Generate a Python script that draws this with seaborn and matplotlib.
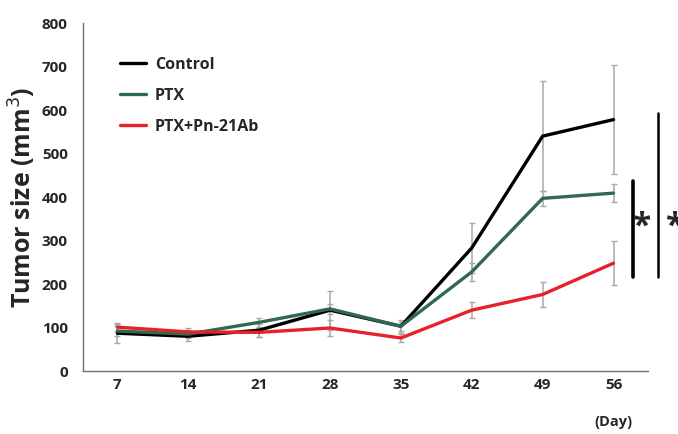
import numpy as np
import pandas as pd
import seaborn as sns
import matplotlib
matplotlib.use("Agg")
import matplotlib.pyplot as plt

days = [7, 14, 21, 28, 35, 42, 49, 56]
groups = ["Control", "PTX", "PTX+Pn-21Ab"]
control = [87, 80, 94, 140, 103, 283, 540, 578]
control_err = [22, 12, 15, 45, 15, 58, 127, 125]
ptx = [92, 85, 112, 143, 103, 228, 397, 409]
ptx_err = [12, 10, 10, 12, 10, 20, 18, 20]
combo = [101, 90, 89, 99, 76, 140, 176, 248]
combo_err = [10, 10, 10, 18, 10, 19, 29, 50]
colors = ["#000000", "#2d6a50", "#e8202a"]

df = pd.DataFrame({
    "day": days * 3,
    "size": control + ptx + combo,
    "err": control_err + ptx_err + combo_err,
    "group": np.repeat(groups, len(days)),
})

sns.set_style("white")
plt.rcParams["font.family"] = ["Open Sans", "DejaVu Sans"]

fig = plt.figure(figsize=(6.78, 4.34), dpi=100)
ax = fig.add_axes([0.1224, 0.145, 0.834, 0.802])

# error bars first so lines sit on top
for g in groups:
    sub = df[df.group == g]
    ax.errorbar(sub["day"], sub["size"], yerr=sub["err"], fmt="none",
                ecolor="#a8a8a8", elinewidth=1.1, capsize=2.5, capthick=1.0, zorder=1)

sns.lineplot(data=df, x="day", y="size", hue="group", palette=colors,
             linewidth=2.4, ax=ax, zorder=3)

ax.set_xlim(7 - 3.4, 56 + 3.45)
ax.set_ylim(0, 800)
ax.set_xticks(days)
ax.set_xticklabels([str(d) for d in days], fontsize=11, fontweight="bold")
ax.set_yticks(range(0, 801, 100))
ax.set_yticklabels([str(v) for v in range(0, 801, 100)], fontsize=11, fontweight="bold")
ax.tick_params(axis="y", length=0, pad=11)
ax.tick_params(axis="x", length=0, pad=5)
ax.set_xlabel("")
ax.set_ylabel("Tumor size (mm$^3$)", fontsize=18, fontweight="bold", labelpad=3)
for s in ["top", "right"]:
    ax.spines[s].set_visible(False)
for s in ["left", "bottom"]:
    ax.spines[s].set_color("#707070")
    ax.spines[s].set_linewidth(1.0)

ax.text(56, -116, "(Day)", ha="center", va="center", fontsize=10.5, fontweight="bold",
        clip_on=False)

leg = ax.legend(loc="upper left", bbox_to_anchor=(0.04, 0.945), frameon=False,
                handlelength=1.6, handletextpad=0.6, labelspacing=0.95,
                prop={"weight": "bold", "size": 11.5})

# significance markers
ax.plot([57.9, 57.9], [216, 437], color="black", lw=2.6, clip_on=False)
ax.plot([60.35, 60.35], [216, 592], color="black", lw=1.8, clip_on=False)
ax.text(58.8, 330, "*", fontsize=24, fontweight="bold", ha="center", va="center", clip_on=False)
ax.text(62.1, 330, "*", fontsize=24, fontweight="bold", ha="center", va="center", clip_on=False)

fig.savefig("out.png", dpi=100)
